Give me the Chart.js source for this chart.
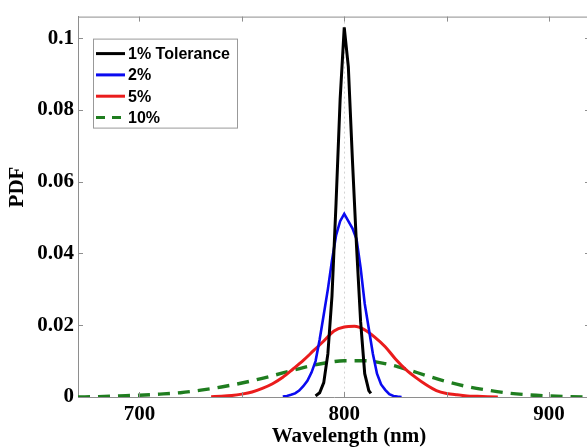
<!DOCTYPE html>
<html>
<head>
<meta charset="utf-8">
<script src="https://cdn.jsdelivr.net/npm/chart.js@4.4.0/dist/chart.umd.min.js"></script>
<style>
  html, body { margin: 0; padding: 0; background: #fff; overflow: hidden; }
  #wrap { width: 587px; height: 447px; overflow: hidden; }
  canvas { display: block; }
</style>
</head>
<body>
<div id="wrap"><canvas id="pdfChart" width="592" height="447"></canvas></div>
<script>
// Wavelength samples (nm) and probability density for each tolerance
const wl1  = [786, 788, 790, 792, 794, 796, 798, 800, 802, 804, 806, 808, 810, 812, 813];
const pdf1 = [0.0003, 0.0012, 0.004, 0.012, 0.028, 0.054, 0.083, 0.103, 0.092, 0.066, 0.042, 0.021, 0.0065, 0.0018, 0.001];

const wl2  = [770, 772, 774, 776, 778, 780, 782, 784, 786, 788, 790, 792, 794, 796, 798, 800,
              802, 804, 806, 808, 810, 812, 814, 816, 818, 820, 822, 824, 826, 828];
const pdf2 = [0.0001, 0.0003, 0.0006, 0.001, 0.0018, 0.003, 0.0045, 0.0068, 0.010, 0.016, 0.023, 0.030, 0.038, 0.045, 0.049, 0.051,
              0.049, 0.047, 0.044, 0.036, 0.026, 0.019, 0.012, 0.0065, 0.0035, 0.002, 0.0008, 0.0003, 0.0001, 0.0];

const wl5  = [735, 740, 745, 750, 755, 760, 765, 770, 775, 780, 785, 790, 795, 800, 805,
              810, 815, 820, 825, 830, 835, 840, 845, 850, 855, 860, 865, 870, 875];
const pdf5 = [0.0001, 0.0002, 0.0004, 0.0008, 0.0014, 0.0024, 0.0037, 0.0055, 0.0078, 0.0102, 0.0129, 0.0156, 0.0184, 0.0195, 0.0197,
              0.0187, 0.0166, 0.014, 0.0106, 0.0077, 0.0054, 0.0034, 0.0018, 0.001, 0.0006, 0.0003, 0.0002, 0.0001, 0.0];

const wl10  = [670, 680, 690, 700, 710, 720, 730, 740, 750, 760, 770, 780, 790, 800,
               810, 820, 830, 840, 850, 860, 870, 880, 890, 900, 910, 920];
const pdf10 = [0.0, 0.0001, 0.0003, 0.0005, 0.0008, 0.0012, 0.0019, 0.0028, 0.0039, 0.0052, 0.0067, 0.0082, 0.0094, 0.0101,
               0.0101, 0.0093, 0.0078, 0.006, 0.0043, 0.0029, 0.0019, 0.0011, 0.0006, 0.0003, 0.0001, 0.0];

const seriesNames = ['1% Tolerance', '2%', '5%', '10%'];
const xTickValues = [700, 750, 800, 850, 900];   // tick marks on the frame
const xLabelValues = [700, 800, 900];            // labelled wavelengths
const yTickValues = [0, 0.02, 0.04, 0.06, 0.08, 0.1];
const xTitle = 'Wavelength (nm)';
const yTitle = 'PDF';

const SERIF = '"Liberation Serif", "Times New Roman", serif';
const SANS = '"Liberation Sans", Arial, sans-serif';
const FRAME = '#8e8e8e';

const toPoints = (xs, ys) => xs.map((x, i) => ({ x: x, y: ys[i] }));

const datasets = [
  { label: seriesNames[0], data: toPoints(wl1, pdf1),   borderColor: '#000000', borderWidth: 3,   tension: 0 },
  { label: seriesNames[1], data: toPoints(wl2, pdf2),   borderColor: '#0a0af0', borderWidth: 2.6, tension: 0 },
  { label: seriesNames[2], data: toPoints(wl5, pdf5),   borderColor: '#ea1c1c', borderWidth: 3,   cubicInterpolationMode: 'monotone' },
  { label: seriesNames[3], data: toPoints(wl10, pdf10), borderColor: '#1f7d1f', borderWidth: 3.4, borderDash: [12, 8], cubicInterpolationMode: 'monotone' }
];
datasets.forEach(d => { d.pointRadius = 0; d.fill = false; });

// Frame, inward tick marks, axis titles and the boxed legend
const framePlugin = {
  id: 'frame',
  afterDraw(chart) {
    const ctx = chart.ctx;
    const a = chart.chartArea;
    const xs = chart.scales.x, ys = chart.scales.y;
    ctx.save();
    ctx.strokeStyle = FRAME;
    ctx.lineWidth = 1;
    ctx.beginPath();
    ctx.moveTo(a.left, a.top + 0.5); ctx.lineTo(a.right, a.top + 0.5);
    ctx.moveTo(a.right - 0.5, a.top); ctx.lineTo(a.right - 0.5, a.bottom);
    const tl = 5;
    xTickValues.forEach(v => {
      const px = Math.round(xs.getPixelForValue(v)) + 0.5;
      ctx.moveTo(px, a.top); ctx.lineTo(px, a.top + tl);
      ctx.moveTo(px, a.bottom); ctx.lineTo(px, a.bottom - tl);
    });
    yTickValues.forEach(v => {
      const py = Math.round(ys.getPixelForValue(v)) + 0.5;
      ctx.moveTo(a.left, py); ctx.lineTo(a.left + tl, py);
      ctx.moveTo(a.right, py); ctx.lineTo(a.right - tl, py);
    });
    ctx.stroke();

    // axis titles
    ctx.fillStyle = '#000';
    ctx.font = 'bold 21px ' + SERIF;
    ctx.textAlign = 'center';
    ctx.textBaseline = 'alphabetic';
    ctx.fillText(xTitle, 349, 442);
    ctx.save();
    ctx.translate(18, 187);
    ctx.rotate(-Math.PI / 2);
    ctx.textBaseline = 'middle';
    ctx.fillText(yTitle, 0, 0);
    ctx.restore();

    // legend
    const lx = a.left + 15, ly = a.top + 22, lw = 144, lh = 89;
    ctx.fillStyle = '#fff';
    ctx.fillRect(lx, ly, lw, lh);
    ctx.strokeStyle = '#999';
    ctx.lineWidth = 1;
    ctx.strokeRect(lx + 0.5, ly + 0.5, lw, lh);
    ctx.font = 'bold 16px ' + SANS;
    ctx.textAlign = 'left';
    ctx.textBaseline = 'middle';
    chart.data.datasets.forEach((d, i) => {
      const y = ly + 15 + i * 21.3;
      ctx.save();
      ctx.strokeStyle = d.borderColor;
      ctx.lineWidth = 3;
      ctx.setLineDash(d.borderDash ? [9, 7] : []);
      ctx.beginPath();
      ctx.moveTo(lx + 3, y); ctx.lineTo(lx + 32, y);
      ctx.stroke();
      ctx.restore();
      ctx.fillStyle = '#000';
      ctx.fillText(d.label, lx + 35, y + 1);
    });
    ctx.restore();
  }
};

new Chart(document.getElementById('pdfChart'), {
  type: 'line',
  data: { datasets: datasets },
  options: {
    responsive: false,
    animation: false,
    devicePixelRatio: 1,
    layout: { padding: { top: 15, right: 2, left: 0, bottom: 0 } },
    plugins: { legend: { display: false }, tooltip: { enabled: false } },
    scales: {
      x: {
        type: 'linear',
        min: 670,
        max: 920,
        afterBuildTicks: s => { s.ticks = xLabelValues.map(v => ({ value: v })); },
        afterFit: s => { s.height = 50; },
        ticks: {
          padding: 5,
          color: '#000',
          font: { family: SERIF, size: 21, weight: 'bold' },
          maxRotation: 0,
          callback: v => String(v)
        },
        grid: {
          drawTicks: false,
          lineWidth: 1,
          color: c => (c.tick && c.tick.value === 800) ? '#d4d4d4' : 'rgba(0,0,0,0)'
        },
        border: { display: true, color: FRAME, width: 1, dash: [2, 3] }
      },
      y: {
        min: 0,
        max: 0.106,
        afterBuildTicks: s => { s.ticks = yTickValues.map(v => ({ value: v })); },
        afterFit: s => { s.width = 78; },
        ticks: {
          padding: 4,
          color: '#000',
          font: { family: SERIF, size: 21, weight: 'bold' },
          callback: v => (v === 0 ? '0' : String(+v.toFixed(2)))
        },
        grid: { display: false, drawTicks: false },
        border: { display: true, color: FRAME, width: 1 }
      }
    }
  },
  plugins: [framePlugin]
});
</script>
</body>
</html>
